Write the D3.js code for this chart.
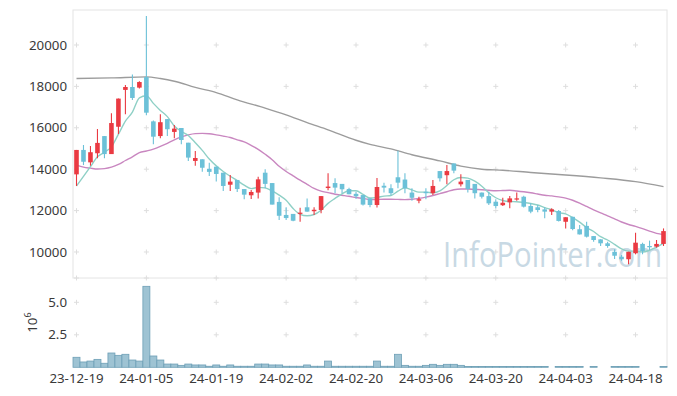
<!DOCTYPE html>
<html><head><meta charset="utf-8">
<script src="https://cdn.jsdelivr.net/npm/d3@7"></script>
<style>html,body{margin:0;padding:0;background:#fff;}svg{display:block;font-family:"Noto Sans",sans-serif;}</style>
</head><body><svg id="c" width="677" height="396"></svg>
<script>
const dates = ["23-12-19","23-12-20","23-12-21","23-12-22","23-12-26","23-12-27","23-12-28",
"24-01-02","24-01-03","24-01-04","24-01-05","24-01-08","24-01-09","24-01-10","24-01-11","24-01-12",
"24-01-15","24-01-16","24-01-17","24-01-18","24-01-19","24-01-22","24-01-23","24-01-24","24-01-25","24-01-26",
"24-01-29","24-01-30","24-01-31","24-02-01","24-02-02","24-02-05","24-02-06","24-02-07","24-02-08",
"24-02-13","24-02-14","24-02-15","24-02-16","24-02-19","24-02-20","24-02-21","24-02-22","24-02-23",
"24-02-26","24-02-27","24-02-28","24-02-29","24-03-04","24-03-05","24-03-06","24-03-07","24-03-08",
"24-03-11","24-03-12","24-03-13","24-03-14","24-03-15","24-03-18","24-03-19","24-03-20","24-03-21","24-03-22",
"24-03-25","24-03-26","24-03-27","24-03-28","24-03-29","24-04-01","24-04-02","24-04-03","24-04-04","24-04-05",
"24-04-08","24-04-09","24-04-11","24-04-12","24-04-15","24-04-16","24-04-17","24-04-18","24-04-19",
"24-04-22","24-04-23","24-04-24"];
const tickLabels = ["23-12-19","24-01-05","24-01-19","24-02-02","24-02-20","24-03-06","24-03-20","24-04-03","24-04-18"];
const priceTicks = [10000,12000,14000,16000,18000,20000];
const volTicks = [2.5,5.0];
const volTickLabels = ["2.5","5.0"];

const open  = [13750,14930,14330,14770,15600,14730,16050,17830,17970,17940,18450,16310,15600,16420,15800,15990,15280,14400,14480,14020,
14120,13830,13250,13480,13040,12740,12870,13830,13330,12420,11790,11840,11840,12160,11970,12030,13090,13330,13290,13040,
12810,12750,12590,12270,13200,13080,13610,13500,12870,12480,12910,12840,13910,13710,14280,13270,13480,13290,12870,12700,
12430,12260,12400,12550,12670,12220,12160,12060,11950,11980,11460,11700,11100,11260,10770,10610,10420,10010,9770,9650,
9940,10390,10290,10260,10390];
const high  = [14930,15170,15120,15940,15600,16700,17410,18070,18580,18250,21400,16350,16650,16420,16140,15990,15280,14880,14480,14310,
14120,13830,13720,13480,13040,13000,13640,14000,13330,12640,12160,11840,12140,12590,12160,12700,13800,13560,13290,13100,
12910,12750,12590,13580,13350,13270,14890,13800,13080,12670,13080,13480,13910,14200,14280,13750,13480,13290,12870,12910,
12550,12620,12700,12870,12720,12350,12270,12160,12110,12030,11680,11700,11300,11460,10770,10610,10500,10130,9860,10010,
10930,10450,10550,10580,11140];
const low   = [13190,14200,14170,14530,14530,14730,15700,16650,17340,17900,16600,15200,15490,15600,15490,15200,14400,14170,13880,13670,
13400,12950,12950,12900,12550,12560,12580,13080,12290,11550,11550,11480,11460,11950,11790,11870,12980,12840,12840,12790,
12570,12250,12160,12150,12870,12740,13080,12840,12480,12350,12550,12750,13400,13270,13800,13160,12880,12590,12580,12270,
12110,12220,12110,12480,12150,11870,11920,11630,11790,11470,11140,11050,10850,10700,10500,10290,10210,9660,9580,9410,
9890,9890,10100,10210,10290];
const close = [14930,14360,14820,15270,14730,16230,17410,17970,17440,18210,16730,15570,16270,15930,15960,15410,14560,14540,14070,13870,
13770,13190,13400,13040,12770,12900,13510,13290,12290,11750,11640,11510,11900,11950,12040,12700,13160,13110,13030,12790,
12690,12290,12270,13140,13110,12840,13350,13080,12620,12550,12840,13190,13560,13910,13930,13400,13040,12840,12670,12350,
12220,12380,12590,12590,12190,11950,12030,11950,12060,11500,11680,11110,10850,10740,10580,10420,10290,9820,9650,10010,
10450,10050,10230,10390,11010];
const volume = [0.77,0.41,0.48,0.61,0.31,1.10,0.92,1.00,0.56,0.48,6.23,0.87,0.56,0.25,0.25,0.15,0.25,0.18,0.18,0.08,
0.18,0.08,0.18,0.08,0.08,0.08,0.25,0.25,0.18,0.18,0.08,0.08,0.08,0.18,0.08,0.08,0.48,0.08,0.08,0.08,
0.08,0.08,0.08,0.48,0.08,0.08,1.00,0.15,0.08,0.08,0.15,0.23,0.15,0.23,0.23,0.15,0.06,0.06,0.06,0.06,
0.06,0.06,0.06,0.06,0.06,0.06,0.06,0.06,0,0.06,0.06,0.06,0.06,0,0.06,0,0,0.06,0.06,0.06,
0.06,0,0,0,0.06];
const ma5 = [13190,13650,14120,14600,14820,15080,15690,16320,16760,17450,17550,17180,16840,16540,16090,15830,15630,15280,14910,14490,
14160,13890,13660,13450,13230,13060,13120,13100,12950,12750,12500,12100,11820,11750,11810,12020,12350,12590,12810,12960,
12960,12780,12610,12640,12700,12730,12940,13100,13000,12890,12890,12860,12950,13210,13490,13600,13570,13420,13180,12860,
12620,12490,12440,12430,12390,12340,12270,12140,12040,11900,11840,11660,11440,11180,10990,10740,10580,10370,10150,10040,
10040,10000,10080,10230,10430];
const ma20 = [14200,14100,14050,14010,14030,14100,14230,14420,14600,14800,14880,14970,15100,15250,15420,15560,15660,15720,15730,15710,
15660,15600,15530,15420,15320,15150,14960,14720,14460,14140,13890,13680,13470,13270,13070,12940,12870,12790,12740,12690,
12630,12590,12530,12540,12550,12550,12540,12530,12550,12590,12650,12730,12820,12910,13010,13040,13040,13020,13010,12980,
12960,12970,12980,12950,12910,12860,12800,12740,12710,12660,12600,12500,12360,12200,12040,11890,11750,11600,11450,11330,
11240,11130,11010,10900,10840];
const ma60Idx = [0,5,10,12,14,17,20,23,27,30,33,36,40,42,45,48,52,55,58,61,65,70,75,80,84];
const ma60 = [18380,18410,18460,18380,18250,17950,17700,17350,16950,16620,16250,15900,15400,15200,14980,14700,14400,14150,14000,13950,13840,13720,13580,13400,13160];

const svg = d3.select("#c");
const L = 73, R = 667, T = 10, M = 278, B = 367.3;
const n = dates.length;
const x = d3.scaleLinear().domain([-0.5, n - 0.5]).range([L, R]);
const y = d3.scaleLinear().domain([8744, 21690]).range([M, T]);
const yv = d3.scaleLinear().domain([0, 6.87]).range([B, M]);

const UP = "#ea3a42", DOWN = "#6cc1d8", GRID = "#dedede", BORDER = "#e4e4e4", TXT = "#3a3a3a";

svg.append("rect").attr("x", L).attr("y", T).attr("width", R - L).attr("height", M - T)
  .attr("fill", "none").attr("stroke", BORDER).attr("stroke-width", 1);
svg.append("line").attr("x1", R).attr("x2", R).attr("y1", M).attr("y2", B).attr("stroke", BORDER);

const tickIdx = tickLabels.map(t => dates.indexOf(t));
const crosses = [];
tickIdx.forEach(i => {
  priceTicks.forEach(v => crosses.push([x(i), y(v)]));
  crosses.push([x(i), M]);
  volTicks.forEach(v => crosses.push([x(i), yv(v)]));
});
const cg = svg.append("g").attr("stroke", GRID).attr("stroke-width", 1);
crosses.forEach(([cx, cy]) => {
  cg.append("line").attr("x1", cx - 2.5).attr("x2", cx + 2.5).attr("y1", cy).attr("y2", cy);
  cg.append("line").attr("x1", cx).attr("x2", cx).attr("y1", cy - 2.5).attr("y2", cy + 2.5);
});

svg.append("g").attr("transform", "translate(443,267) scale(0.86,1)")
  .append("text").attr("x", 0).attr("y", 0).attr("font-size", 34)
  .attr("font-family", "'Open Sans',sans-serif").attr("fill", "#c8d9e4")
  .text("InfoPointer.com");

const line = d3.line().x((d) => x(d[0])).y(d => y(d[1])).curve(d3.curveMonotoneX);
svg.append("path").attr("d", line(ma60Idx.map((i, k) => [i, ma60[k]])))
  .attr("fill", "none").attr("stroke", "#9c9c9c").attr("stroke-width", 1.4);
svg.append("path").attr("d", line(ma20.map((v, i) => [i, v])))
  .attr("fill", "none").attr("stroke", "#c987c0").attr("stroke-width", 1.4);
svg.append("path").attr("d", line(ma5.map((v, i) => [i, v])))
  .attr("fill", "none").attr("stroke", "#8fd0c6").attr("stroke-width", 1.4);

const bw = 4.6;
const cgp = svg.append("g");
d3.range(n).forEach(i => {
  const c = close[i] >= open[i] ? UP : DOWN;
  cgp.append("line").attr("x1", x(i)).attr("x2", x(i)).attr("y1", y(high[i])).attr("y2", y(low[i]))
    .attr("stroke", c).attr("stroke-width", 1.1);
  const top = y(Math.max(open[i], close[i])), bot = y(Math.min(open[i], close[i]));
  cgp.append("rect").attr("x", x(i) - bw / 2).attr("y", top).attr("width", bw)
    .attr("height", Math.max(1.2, bot - top)).attr("fill", c);
});

const vg = svg.append("g");
d3.range(n).forEach(i => {
  if (volume[i] <= 0) return;
  const w = x(1) - x(0);
  const top = yv(volume[i]);
  vg.append("rect").attr("x", x(i) - w / 2).attr("y", top).attr("width", w).attr("height", B - top)
    .attr("fill", "#9ec3d3").attr("stroke", "#6d9fb6").attr("stroke-width", 0.8);
});

const ax = svg.append("g").attr("fill", TXT).attr("font-size", 13.3);
priceTicks.forEach(v => ax.append("text").attr("x", 67).attr("y", y(v)).attr("dy", "0.35em")
  .attr("text-anchor", "end").text(v));
volTicks.forEach((v, k) => ax.append("text").attr("x", 67).attr("y", yv(v)).attr("dy", "0.35em")
  .attr("text-anchor", "end").text(volTickLabels[k]));
tickIdx.forEach((i, k) => ax.append("text").attr("x", x(i)).attr("y", 383)
  .attr("text-anchor", "middle").text(tickLabels[k]));
const t6 = ax.append("text").attr("transform", "translate(37," + ((M + B) / 2) + ") rotate(-90)")
  .attr("text-anchor", "middle");
t6.append("tspan").text("10");
t6.append("tspan").attr("font-size", 9).attr("dy", -6).text("6");
</script></body></html>
